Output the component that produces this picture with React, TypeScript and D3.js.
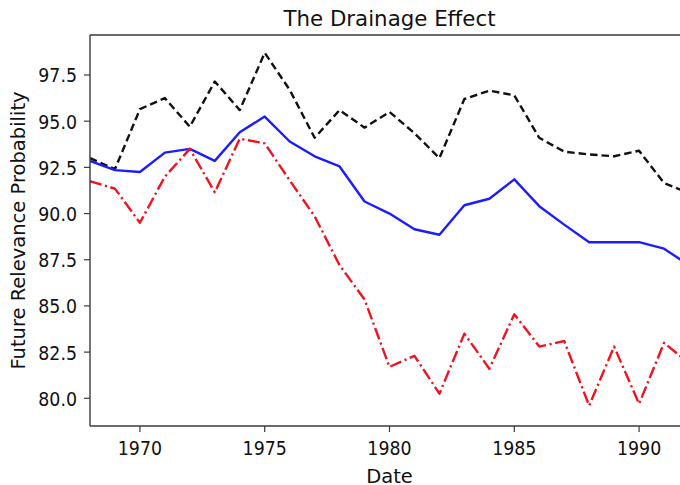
import * as d3 from 'd3'

// Years shown on the x axis (the plot is cut off on the right, like the reference)
const years = [
  1968, 1969, 1970, 1971, 1972, 1973, 1974, 1975, 1976, 1977, 1978, 1979, 1980,
  1981, 1982, 1983, 1984, 1985, 1986, 1987, 1988, 1989, 1990, 1991, 1992,
]

// black dashed
const upperSeries = [
  93.0, 92.4, 95.65, 96.25, 94.7, 97.15, 95.6, 98.7, 96.7, 94.1, 95.6, 94.65, 95.5,
  94.35, 93.0, 96.2, 96.65, 96.4, 94.1, 93.35, 93.2, 93.1, 93.4, 91.65, 91.1,
]

// blue solid
const middleSeries = [
  92.85, 92.35, 92.25, 93.3, 93.5, 92.85, 94.4, 95.25, 93.9, 93.1, 92.55, 90.65, 90.0,
  89.15, 88.85, 90.45, 90.8, 91.85, 90.4, 89.4, 88.45, 88.45, 88.45, 88.1, 87.2,
]

// red dash-dot
const lowerSeries = [
  91.75, 91.35, 89.5, 92.0, 93.5, 91.15, 94.05, 93.8, 91.8, 89.85, 87.2, 85.35, 81.7,
  82.3, 80.25, 83.5, 81.6, 84.55, 82.8, 83.1, 79.6, 82.8, 79.7, 83.0, 81.9,
]

const xTicks = [1970, 1975, 1980, 1985, 1990]
const yTicks = [80, 82.5, 85, 87.5, 90, 92.5, 95, 97.5]

const font = '"DejaVu Sans", sans-serif'

export default function App() {
  const width = 680
  const height = 485
  const plot = { left: 90, right: 689, top: 35, bottom: 426 }

  const x = d3.scaleLinear().domain([1968, 1992]).range([plot.left, plot.right])
  const y = d3.scaleLinear().domain([78.5, 99.665]).range([plot.bottom, plot.top])

  const line = d3
    .line<number>()
    .x((_, i) => x(years[i]))
    .y((d) => y(d))

  const series = [
    { values: upperSeries, color: '#111111', dash: '7.5,4' },
    { values: middleSeries, color: '#1c1cff', dash: '' },
    { values: lowerSeries, color: '#f01420', dash: '12,3.5,2.2,3.5' },
  ]

  return (
    <svg
      width={width}
      height={height}
      style={{ position: 'absolute', left: 0, top: 0, background: '#fff' }}
    >
      <defs>
        <clipPath id="plot-clip">
          <rect x={plot.left} y={plot.top} width={plot.right - plot.left} height={plot.bottom - plot.top} />
        </clipPath>
      </defs>

      <rect width={width} height={height} fill="#fff" />

      {/* Series */}
      <g clipPath="url(#plot-clip)">
        {series.map((s, i) => (
          <path
            key={i}
            d={line(s.values) ?? ''}
            fill="none"
            stroke={s.color}
            strokeWidth={2.4}
            strokeDasharray={s.dash || undefined}
            strokeLinejoin="round"
          />
        ))}
      </g>

      {/* Spines */}
      <g stroke="#3a3a3a" strokeWidth={1.4} fill="none">
        <line x1={plot.left} x2={plot.left} y1={plot.top} y2={plot.bottom} />
        <line x1={plot.left} x2={width} y1={plot.bottom} y2={plot.bottom} />
        <line x1={plot.left} x2={width} y1={plot.top} y2={plot.top} />
      </g>

      {/* X axis */}
      {xTicks.map((t) => (
        <g key={t}>
          <line x1={x(t)} x2={x(t)} y1={plot.bottom} y2={plot.bottom + 6} stroke="#3a3a3a" strokeWidth={1.2} />
          <text
            transform={`translate(${x(t)},${plot.bottom + 29}) scale(0.87,1)`}
            textAnchor="middle"
            fontFamily={font}
            fontSize={20}
            fill="#111"
          >
            {t}
          </text>
        </g>
      ))}

      {/* Y axis */}
      {yTicks.map((t) => (
        <g key={t}>
          <line x1={plot.left - 6} x2={plot.left} y1={y(t)} y2={y(t)} stroke="#3a3a3a" strokeWidth={1.2} />
          <text
            transform={`translate(${plot.left - 13},${y(t) + 7.5}) scale(0.87,1)`}
            textAnchor="end"
            fontFamily={font}
            fontSize={20}
            fill="#111"
          >
            {t.toFixed(1)}
          </text>
        </g>
      ))}

      {/* Labels */}
      <text
        transform={`translate(${(plot.left + plot.right) / 2},26) scale(0.97,1)`}
        textAnchor="middle"
        fontFamily={font}
        fontSize={22}
        fill="#111"
      >
        The Drainage Effect
      </text>
      <text
        x={(plot.left + plot.right) / 2}
        y={483}
        textAnchor="middle"
        fontFamily={font}
        fontSize={19.5}
        fill="#111"
      >
        Date
      </text>
      <text
        transform={`translate(25,${(plot.top + plot.bottom) / 2}) rotate(-90)`}
        textAnchor="middle"
        fontFamily={font}
        fontSize={19.5}
        fill="#111"
      >
        Future Relevance Probability
      </text>
    </svg>
  )
}
